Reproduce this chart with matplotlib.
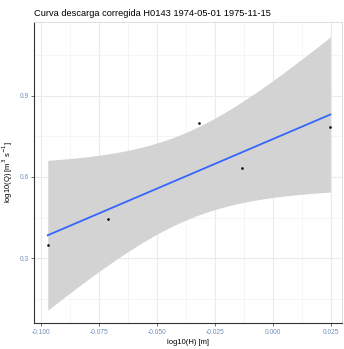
import numpy as np
import matplotlib
matplotlib.use("Agg")
import matplotlib.pyplot as plt

# Data
log_h = [-0.0972, -0.0710, -0.0318, -0.0135, 0.0249]
log_q = [0.349, 0.445, 0.799, 0.634, 0.783]
x_ticks = [-0.100, -0.075, -0.050, -0.025, 0.000, 0.025]
x_ticklabels = ["-0.100", "-0.075", "-0.050", "-0.025", "0.000", "0.025"]
y_ticks = [0.3, 0.6, 0.9]
y_ticklabels = ["0.3", "0.6", "0.9"]
title = "Curva descarga corregida H0143 1974-05-01 1975-11-15"

plt.rcParams['font.family'] = ['Liberation Sans', 'DejaVu Sans']

x = np.array(log_h)
y = np.array(log_q)
n = len(x)
xm, ym = x.mean(), y.mean()
sxx = ((x - xm) ** 2).sum()
slope = ((x - xm) * (y - ym)).sum() / sxx
icpt = ym - slope * xm
res = y - (icpt + slope * x)
s = np.sqrt((res ** 2).sum() / (n - 2))
t975 = 3.182446  # t quantile, df = 3
xs = np.linspace(x.min(), x.max(), 200)
fit = icpt + slope * xs
se = s * np.sqrt(1.0 / n + (xs - xm) ** 2 / sxx)
lo, hi = fit - t975 * se, fit + t975 * se

fig = plt.figure(figsize=(3.44, 3.49), dpi=100)
ax = fig.add_axes([34.3 / 344, 1 - 323.3 / 349, (342 - 34.3) / 344, (323.3 - 21.7) / 349])
ax.set_xlim(-0.1030, 0.0299)
ax.set_ylim(0.060, 1.173)

# grid
for v in np.arange(-0.1125, 0.04, 0.0125):
    major = abs(round(v / 0.025) * 0.025 - v) < 1e-9
    ax.axvline(v, color='#ebebeb' if major else '#f2f2f2', lw=0.8 if major else 0.5, zorder=0)
for v in np.arange(0.0, 1.2, 0.15):
    major = abs(round(v / 0.3) * 0.3 - v) < 1e-9
    ax.axhline(v, color='#ebebeb' if major else '#f2f2f2', lw=0.8 if major else 0.5, zorder=0)

ax.fill_between(xs, lo, hi, color='#d3d3d3', lw=0, zorder=1)
ax.plot(xs, fit, color='#3366FF', lw=1.3, zorder=2)
ax.scatter(x, y, s=3.5, color='black', zorder=3, linewidths=0)

ax.set_xticks(x_ticks)
ax.set_xticklabels(x_ticklabels)
ax.set_yticks(y_ticks)
ax.set_yticklabels(y_ticklabels)
ax.tick_params(axis='both', labelsize=4.8, colors='#333333', length=2, width=0.5, pad=2)
for lab in ax.get_xticklabels() + ax.get_yticklabels():
    lab.set_color('#7090B8')

for side in ['top', 'right']:
    ax.spines[side].set_color('#d9d9d9')
    ax.spines[side].set_linewidth(0.6)
for side in ['left', 'bottom']:
    ax.spines[side].set_color('#333333')
    ax.spines[side].set_linewidth(0.8)

ax.set_xlabel("log10(H) [m]", fontsize=5.5, labelpad=2)
ax.set_ylabel(r"log10(Q) [m$^3$ s$^{-1}$]", fontsize=5.5, labelpad=3)
fig.text(34.3 / 344, 1 - 14 / 349, title, fontsize=6.7, ha='left', va='center')

fig.savefig("out.png", dpi=100)
